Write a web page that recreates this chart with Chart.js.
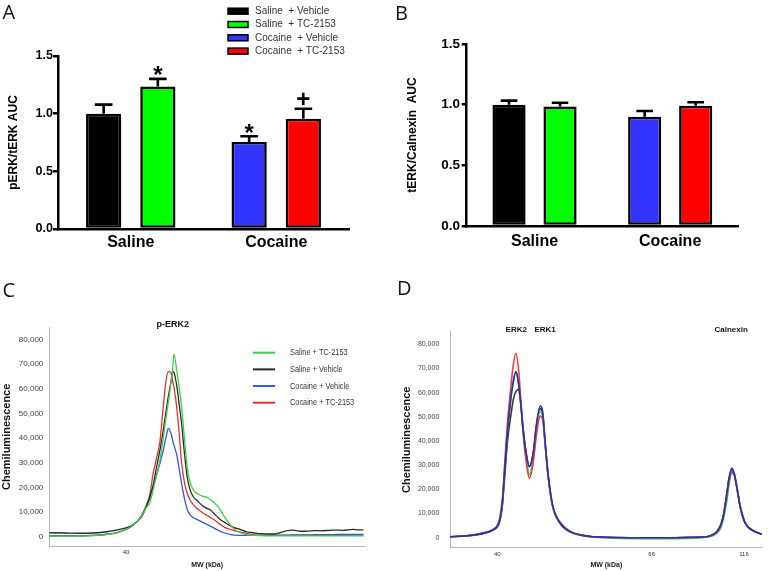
<!DOCTYPE html>
<html>
<head>
<meta charset="utf-8">
<title>pERK / tERK figure</title>
<script src="https://cdn.jsdelivr.net/npm/chart.js@4.4.1/dist/chart.umd.min.js"></script>
<style>
html, body { margin:0; padding:0; background:#ffffff; }
#fig { position:relative; width:768px; height:571px; overflow:hidden; background:#ffffff; }
#fig canvas { position:absolute; }
</style>
</head>
<body>
<div id="fig">
  <canvas id="panelA" width="384" height="262" style="left:0px;top:0px;"></canvas>
  <canvas id="panelB" width="384" height="262" style="left:384px;top:0px;"></canvas>
  <canvas id="panelC" width="384" height="293" style="left:0px;top:278px;"></canvas>
  <canvas id="panelD" width="384" height="293" style="left:384px;top:278px;"></canvas>
</div>
<script>
// ================= DATA =================
const groups = ['Saline', 'Cocaine'];
const conditions = ['Saline  + Vehicle', 'Saline  + TC-2153', 'Cocaine  + Vehicle', 'Cocaine  + TC-2153'];
const conditionGroup = [0, 0, 1, 1];
const barTicks = [0, 0.5, 1.0, 1.5];

// Panel A : pERK/tERK AUC
const pErkMean = [1.00, 1.236, 0.755, 0.957];
const pErkSem  = [0.078, 0.066, 0.049, 0.086];
const pErkSig  = ['', '*', '*', '+'];

// Panel B : tERK/Calnexin AUC
const tErkMean = [1.00, 0.985, 0.901, 0.992];
const tErkSem  = [0.033, 0.031, 0.047, 0.028];

// Traces (C, D)
const traceLabels = ['Saline + TC-2153', 'Saline + Vehicle', 'Cocaine + Vehicle', 'Cocaine + TC-2153'];
const chemiTicks = [0, 10000, 20000, 30000, 40000, 50000, 60000, 70000, 80000];

// Panel C : p-ERK2 (x = migration position, % of lane)
const cPos = [0, 5, 10, 14, 18.2, 22.4, 25.6, 27.7, 29.3, 30.6,
  31.9, 32.9, 34.0, 35.1, 36.1, 37.0, 37.7, 38.5, 39.1, 39.5,
  40.4, 41.2, 41.9, 42.8, 43.7, 44.6, 45.6, 46.7, 47.7, 48.8,
  49.9, 51.0, 52.5, 54.1, 55.5, 57.2, 58.8, 60.4, 62.5, 64.6,
  67, 70.9, 73, 75, 77.3, 79.5, 82, 84, 86, 88.9,
  91, 93, 96.2, 98, 99.5];
const cSalineTC = [200, 200, 250, 400, 900, 2000, 3800, 6000, 8500, 11500,
  14000, 19000, 25000, 31500, 40000, 48500, 54500, 62000, 68500, 74000,
  67000, 60000, 52700, 40000, 28000, 22000, 19000, 17600, 16800, 16300,
  16000, 15000, 13500, 11000, 8000, 5000, 2800, 1600, 800, 500,
  400, 300, 300, 300, 300, 300, 300, 300, 300, 300,
  300, 300, 300, 300, 300];
const cSalineVeh = [1600, 1500, 1400, 1500, 2000, 3000, 4200, 6000, 8500, 12000,
  16200, 21000, 28400, 35500, 43200, 51000, 56800, 62500, 66900, 66500,
  61000, 53000, 46000, 34000, 24000, 19000, 16200, 14800, 13500, 12300,
  11500, 10800, 9000, 7000, 5800, 4500, 3600, 3000, 2000, 1600,
  1200, 1100, 1600, 2400, 2700, 2200, 2300, 2500, 2400, 2600,
  2700, 2600, 3000, 2800, 2800];
const cCocaineVeh = [300, 300, 300, 500, 1000, 2000, 3800, 6000, 8800, 12000,
  16000, 20000, 25000, 30000, 35000, 40500, 43900, 42000, 39000, 37000,
  33000, 27000, 21600, 15500, 11000, 8800, 7700, 7000, 6400, 5700,
  5000, 4300, 3300, 2200, 1500, 900, 600, 500, 500, 500,
  500, 600, 600, 600, 700, 700, 700, 800, 800, 800,
  900, 900, 900, 900, 900];
const cCocaineTC = [300, 300, 300, 500, 1000, 2000, 3800, 6000, 8100, 12000,
  17500, 25700, 32000, 39200, 52700, 63500, 66900, 66500, 63000, 60500,
  52000, 41000, 30000, 22000, 17500, 14900, 13000, 11500, 10500, 9500,
  8700, 7800, 6600, 5000, 3800, 3000, 2400, 2000, 1200, 700,
  500, 500, 500, 500, 500, 500, 500, 500, 500, 500,
  500, 500, 600, 600, 600];
const cMwTickPos = [24.3];
const cMwTickLabels = ['40'];

// Panel D : ERK2, ERK1, Calnexin
const dPos = [0, 5, 10.6, 13.8, 15.5, 16.2, 16.8, 17.6, 18.4, 19.5,
  20.3, 21.1, 21.9, 22.6, 23.4, 24.5, 25.4, 26.6, 27.7, 28.8,
  29.7, 30.4, 31.4, 32.8, 35.2, 38.4, 43.7, 50, 60.8, 70,
  78, 82.1, 84, 85.3, 86.5, 87.4, 88.5, 89.3, 90.1, 90.9,
  91.7, 92.8, 94.4, 96.5, 99.1, 99.7];
const dSalineTC = [400, 700, 1800, 3200, 5500, 9000, 15000, 30000, 44000, 58000,
  65000, 68700, 64000, 56000, 44000, 32000, 26000, 33000, 46000, 52100,
  49500, 39000, 25000, 13000, 5800, 2300, 500, -100, -400, -400,
  -200, 200, 800, 1800, 3800, 7500, 15000, 22500, 26600, 26300,
  21800, 13500, 6300, 3300, 1700, 1400];
const dSalineVeh = [400, 700, 1800, 3200, 5300, 8500, 14000, 27000, 40000, 51000,
  57500, 60500, 61400, 56000, 45000, 34000, 29500, 35000, 47000, 53400,
  50500, 39500, 25500, 13300, 6000, 2500, 700, 200, 0, 0,
  200, 400, 1200, 2500, 5000, 9000, 18000, 25000, 28200, 26300,
  21000, 12800, 6000, 3200, 1700, 1400];
const dCocaineVeh = [400, 700, 1800, 3200, 5500, 9000, 15000, 30000, 44000, 58000,
  65000, 68700, 64000, 56000, 44600, 33500, 29400, 34900, 47300, 54500,
  51500, 40000, 26000, 13500, 6000, 2500, 700, 200, 0, 0,
  200, 400, 1200, 2500, 5000, 9000, 18000, 25000, 28700, 26500,
  21100, 12800, 6000, 3200, 1700, 1400];
const dCocaineTC = [400, 800, 2000, 3500, 6200, 10500, 17000, 33000, 48000, 63000,
  72000, 76300, 70000, 58000, 43000, 30000, 24600, 31000, 43000, 50300,
  48500, 39000, 25500, 13500, 6500, 2700, 700, 200, 0, 0,
  200, 400, 1100, 2300, 4600, 8500, 17000, 24000, 27300, 25800,
  21000, 13000, 6200, 3300, 1700, 1400];
const dMwTickPos = [15.1, 64.5, 94.0];
const dMwTickLabels = ['40', '66', '116'];

// ================= STYLE =================
const FONT = "'Liberation Sans', Arial, Helvetica, sans-serif";
const LETTER_FONT = "'Open Sans', 'DejaVu Sans', sans-serif";
function fontAvailable(name) {
  const c = document.createElement('canvas').getContext('2d');
  const s = 'mmmmmmmmmlli0123456789,WW';
  c.font = '40px monospace'; const a = c.measureText(s).width;
  c.font = '40px "' + name + '", monospace'; const b = c.measureText(s).width;
  return Math.abs(a - b) > 0.5;
}
const HAS_NARROW = fontAvailable('Liberation Sans Narrow');
const NARROW = HAS_NARROW ? "'Liberation Sans Narrow', 'Liberation Sans', sans-serif" : FONT;
const barColors = ['#000000', '#00ff00', '#3434ff', '#ff0000'];
const cColors = ['#3fd03f', '#2a2a2a', '#3355e6', '#e83030'];
const dColors = ['#2fcb4a', '#3a3a3a', '#2a2eb4', '#ea4040'];

// ================= PLUGINS =================
const textPlugin = {
  id: 'figText',
  afterDraw(chart, args, o) {
    const ctx = chart.ctx;
    (o.items || []).forEach(it => {
      ctx.save();
      ctx.font = it.font;
      ctx.fillStyle = it.color || '#000';
      ctx.textAlign = it.align || 'left';
      ctx.textBaseline = it.baseline || 'alphabetic';
      const x = (it.xv !== undefined) ? chart.scales.x.getPixelForValue(it.xv) : it.x;
      ctx.fillText(it.text, x, it.y);
      ctx.restore();
    });
  }
};
const legendPlugin = {
  id: 'figLegend',
  afterDraw(chart, args, o) {
    if (!o || !o.display) return;
    const ctx = chart.ctx;
    chart.data.datasets.forEach((ds, i) => {
      const y = o.y + i * o.rowH;
      ctx.save();
      if (o.kind === 'box') {
        ctx.fillStyle = ds.backgroundColor;
        ctx.fillRect(o.x, y - o.boxH / 2, o.boxW, o.boxH);
        ctx.lineWidth = o.boxBorder;
        ctx.strokeStyle = '#000';
        ctx.strokeRect(o.x, y - o.boxH / 2, o.boxW, o.boxH);
      } else {
        ctx.strokeStyle = ds.borderColor;
        ctx.lineWidth = o.lineW;
        ctx.beginPath(); ctx.moveTo(o.x, y); ctx.lineTo(o.x + o.boxW, y); ctx.stroke();
      }
      ctx.font = o.font;
      ctx.fillStyle = o.color;
      ctx.textAlign = 'left';
      ctx.textBaseline = 'middle';
      ctx.translate(o.textX, y);
      ctx.scale(o.sx || 1, 1);
      ctx.fillText(ds.label, 0, 0);
      ctx.restore();
    });
  }
};
const errPlugin = {
  id: 'errBars',
  afterDatasetsDraw(chart, args, o) {
    const ctx = chart.ctx, ys = chart.scales.y;
    chart.data.datasets.forEach((ds, di) => {
      const meta = chart.getDatasetMeta(di);
      ds.data.forEach((v, i) => {
        if (v === null || v === undefined) return;
        const bar = meta.data[i];
        const e = ds.errors[i];
        const yTop = ys.getPixelForValue(v);
        const yCap = ys.getPixelForValue(v + e);
        const half = bar.width * o.capRatio / 2;
        ctx.save();
        ctx.strokeStyle = o.color; ctx.lineWidth = o.lineWidth;
        ctx.beginPath();
        ctx.moveTo(bar.x, yTop); ctx.lineTo(bar.x, yCap);
        ctx.moveTo(bar.x - half, yCap); ctx.lineTo(bar.x + half, yCap);
        ctx.stroke();
        const mark = ds.marks[i];
        if (mark) {
          ctx.font = o.markFont; ctx.fillStyle = '#000';
          ctx.textAlign = 'center'; ctx.textBaseline = 'alphabetic';
          ctx.fillText(mark, bar.x, yCap + (o.markDy[mark] || 0));
        }
        ctx.restore();
      });
    });
  }
};

// ================= FACTORIES =================
function barChart(id, means, sems, sig, cfg) {
  const datasets = conditions.map((label, k) => ({
    label,
    data: groups.map((g, gi) => gi === conditionGroup[k] ? means[k] : null),
    errors: groups.map((g, gi) => gi === conditionGroup[k] ? sems[k] : null),
    marks: groups.map((g, gi) => gi === conditionGroup[k] && sig ? sig[k] : ''),
    backgroundColor: barColors[k],
    borderColor: '#000000',
    borderWidth: 2.6,
    borderSkipped: false,
    skipNull: true,
    categoryPercentage: cfg.catPct,
    barPercentage: 0.65
  }));
  return new Chart(document.getElementById(id), {
    type: 'bar',
    data: { labels: groups, datasets },
    options: {
      responsive: false, animation: false, devicePixelRatio: 1, events: [],
      layout: { padding: cfg.padding },
      plugins: {
        legend: { display: false }, tooltip: { enabled: false },
        figLegend: cfg.legend || { display: false },
        figText: { items: cfg.texts },
        errBars: { color: '#000', lineWidth: 2.6, capRatio: 0.5, markFont: 'bold 24px ' + FONT, markDy: { '*': 4.3, '+': -1.5 } }
      },
      scales: {
        x: {
          type: 'category', offset: true,
          grid: { display: false, drawTicks: false },
          border: { display: true, color: '#000', width: 2.5 },
          ticks: { color: '#000', font: { family: FONT, size: 16, weight: 'bold' }, padding: cfg.xTickPad, maxRotation: 0 },
          afterFit: ax => { ax.height = cfg.xH; }
        },
        y: {
          min: 0, max: 1.5, bounds: 'data',
          grid: { display: true, drawOnChartArea: false, drawTicks: true, tickLength: 5, color: '#000', lineWidth: 2.5 },
          border: { display: true, color: '#000', width: 2.5 },
          ticks: { color: '#000', font: { family: FONT, size: cfg.yTickSize, weight: 'bold' }, padding: cfg.yTickPad, callback: v => Number(v).toFixed(1) },
          afterBuildTicks: ax => { ax.ticks = barTicks.map(v => ({ value: v })); },
          title: { display: true, text: cfg.yTitle, color: '#000', font: { family: FONT, size: 12, weight: 'bold' }, padding: { top: cfg.yTitlePad, bottom: 0 } },
          afterFit: ax => { ax.width = cfg.yW; }
        }
      }
    },
    plugins: [errPlugin, textPlugin, legendPlugin]
  });
}

function traceChart(id, xs, series, colors, order, cfg) {
  const datasets = series.map((arr, k) => ({
    label: traceLabels[k],
    data: xs.map((x, i) => ({ x, y: arr[i] })),
    borderColor: colors[k], backgroundColor: colors[k],
    borderWidth: cfg.lineWidth, pointRadius: 0, pointHoverRadius: 0,
    cubicInterpolationMode: 'monotone', fill: false, order: order[k]
  }));
  return new Chart(document.getElementById(id), {
    type: 'line',
    data: { datasets },
    options: {
      responsive: false, animation: false, devicePixelRatio: 1, events: [],
      layout: { padding: cfg.padding },
      plugins: {
        legend: { display: false }, tooltip: { enabled: false },
        figLegend: cfg.legend || { display: false },
        figText: { items: cfg.texts }
      },
      scales: {
        x: {
          type: 'linear', min: 0, max: 100, bounds: 'data',
          grid: { display: false, drawTicks: false },
          border: { display: true, color: '#b8b8b8', width: 1 },
          ticks: { autoSkip: false, maxRotation: 0, color: '#333', font: { family: FONT, size: 6 }, padding: cfg.xTickPad,
                   callback: (v, i) => cfg.xTickLabels[i] },
          afterBuildTicks: ax => { ax.ticks = cfg.xTickPos.map(v => ({ value: v })); },
          title: { display: true, text: 'MW (kDa)', color: '#222', font: { family: FONT, size: 7, weight: 'bold' }, padding: { top: 0, bottom: 1.8 } },
          afterFit: ax => { ax.height = cfg.xH; }
        },
        y: {
          type: 'linear', min: cfg.yMin, max: cfg.yMax, bounds: 'data',
          grid: { display: false, drawTicks: false },
          border: { display: true, color: '#b8b8b8', width: 1 },
          ticks: { autoSkip: false, color: '#444', font: cfg.yTickFont, padding: cfg.yTickPad,
                   callback: v => Number(v).toLocaleString('en-US') },
          afterBuildTicks: ax => { ax.ticks = chemiTicks.map(v => ({ value: v })); },
          title: { display: true, text: 'Chemiluminescence', color: '#111', font: { family: FONT, size: 11, weight: 'bold' }, padding: { top: cfg.yTitlePad, bottom: 0 } },
          afterFit: ax => { ax.width = cfg.yW; }
        }
      }
    },
    plugins: [textPlugin, legendPlugin]
  });
}

// ================= CHARTS =================
barChart('panelA', pErkMean, pErkSem, pErkSig, {
  padding: { left: 0, top: 56, right: 35, bottom: 0 },
  yW: 58, xH: 33, catPct: 0.745,
  yTickSize: 12.5, yTickPad: 0, xTickPad: 4.4,
  yTitle: 'pERK/tERK AUC', yTitlePad: 6.6,
  legend: { display: true, kind: 'box', x: 228, y: 11.2, rowH: 13.3, boxW: 20, boxH: 6, boxBorder: 1.5,
            textX: 255, font: '10px ' + FONT, color: '#333' },
  texts: [{ text: 'A', x: 2.5, y: 19, font: '20px ' + LETTER_FONT, color: '#111' }]
});

barChart('panelB', tErkMean, tErkSem, null, {
  padding: { left: 0, top: 44, right: 30, bottom: 0 },
  yW: 82.7, xH: 36, catPct: 0.752,
  yTickSize: 13.5, yTickPad: 1.7, xTickPad: 6.1,
  yTitle: 'tERK/Calnexin  AUC', yTitlePad: 21,
  texts: [{ text: 'B', x: 11, y: 20, font: '20px ' + LETTER_FONT, color: '#111' }]
});

traceChart('panelC', cPos, [cSalineTC, cSalineVeh, cCocaineVeh, cCocaineTC], cColors, [0, 1, 2, 3], {
  padding: { left: 0, top: 49, right: 19, bottom: 0 },
  yW: 49.3, xH: 24.3, yMin: -4054, yMax: 85000,
  yTickFont: HAS_NARROW ? { family: NARROW, size: 9 } : { family: FONT, size: 8 },
  yTickPad: 6, yTitlePad: 0.1, xTickPad: 2.4, lineWidth: 1.3,
  xTickPos: cMwTickPos, xTickLabels: cMwTickLabels,
  legend: { display: true, kind: 'line', x: 253, y: 74.7, rowH: 16.67, boxW: 22, lineW: 2,
            textX: 290, font: HAS_NARROW ? ('9px ' + NARROW) : ('9px ' + FONT), sx: HAS_NARROW ? 1 : 0.82, color: '#333' },
  texts: [
    { text: 'C', x: 2.5, y: 19, font: '20px ' + LETTER_FONT, color: '#111' },
    { text: 'p-ERK2', xv: 39.1, y: 47, font: 'bold 9px ' + FONT, color: '#111', align: 'center', baseline: 'middle' }
  ]
});

traceChart('panelD', dPos, [dSalineTC, dSalineVeh, dCocaineVeh, dCocaineTC], dColors, [2, 3, 0, 1], {
  padding: { left: 0, top: 53.7, right: 5.3, bottom: 0 },
  yW: 66, xH: 23.3, yMin: -4137, yMax: 85230,
  yTickFont: HAS_NARROW ? { family: NARROW, size: 8 } : { family: FONT, size: 7 },
  yTickPad: 10.7, yTitlePad: 16.1, xTickPad: 2.7, lineWidth: 1.6,
  xTickPos: dMwTickPos, xTickLabels: dMwTickLabels,
  texts: [
    { text: 'D', x: 13, y: 17, font: '20px ' + LETTER_FONT, color: '#111' },
    { text: 'ERK2', xv: 21.2, y: 52, font: 'bold 8px ' + FONT, color: '#111', align: 'center', baseline: 'middle' },
    { text: 'ERK1', xv: 30.4, y: 52, font: 'bold 8px ' + FONT, color: '#111', align: 'center', baseline: 'middle' },
    { text: 'Calnexin', xv: 89.9, y: 52, font: 'bold 8px ' + FONT, color: '#111', align: 'center', baseline: 'middle' }
  ]
});
</script>
</body>
</html>
